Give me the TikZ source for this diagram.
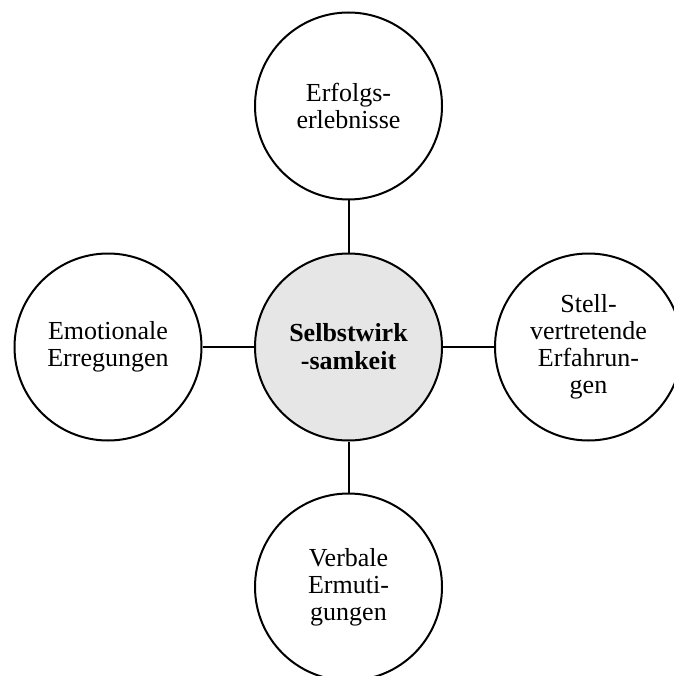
\documentclass[tikz,border=0pt]{standalone}
\usepackage{fontspec}
\setmainfont{Liberation Serif}
\begin{document}
\begin{tikzpicture}[x=1pt,y=-1pt,
  bubble/.style={circle,draw=black,line width=2pt,fill=white,minimum size=187pt,inner sep=0pt,
    align=center,font=\fontsize{26}{27}\selectfont},
  core/.style={bubble,fill={rgb,255:red,230;green,230;blue,230},font=\fontsize{26}{28}\selectfont\bfseries},
  link/.style={line width=2pt}]
  \useasboundingbox (0,0) rectangle (673,676);
  \node[core]   (c) at (348.5,347) {Selbstwirk\\-samkeit};
  \node[bubble] (t) at (348.5,106) {Erfolgs-\\erlebnisse};
  \node[bubble] (l) at (108,347)   {Emotionale\\Erregungen};
  \node[bubble] (r) at (588.5,347) {Stell-\\vertretende\\Erfahrun-\\gen};
  \node[bubble] (b) at (348.5,587) {Verbale\\Ermuti-\\gungen};
  \draw[link] (c) -- (t);
  \draw[link] (c) -- (l);
  \draw[link] (c) -- (r);
  \draw[link] (c) -- (b);
\end{tikzpicture}
\end{document}
